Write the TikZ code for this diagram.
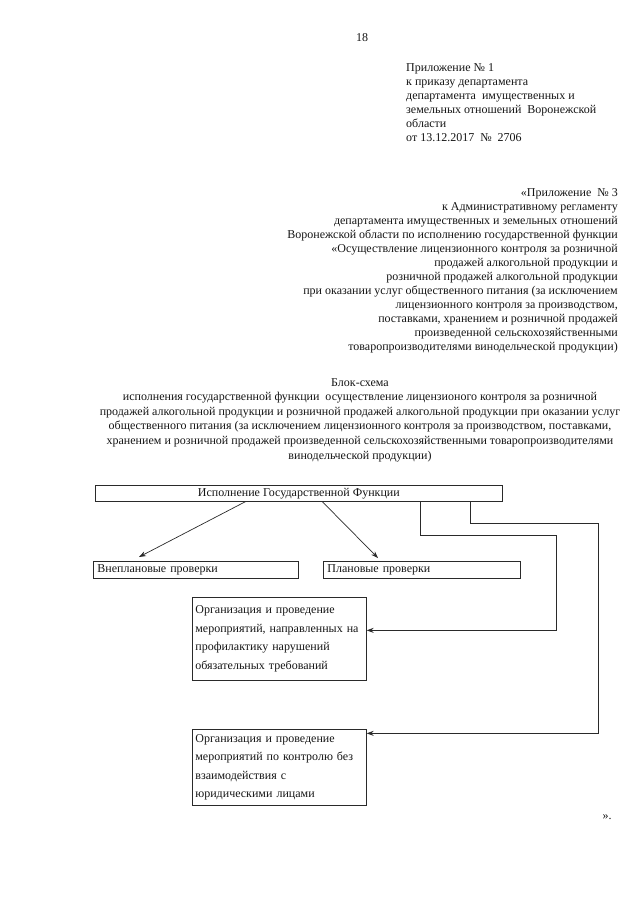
\documentclass[tikz,border=0pt]{standalone}
\usepackage{fontspec}
\setmainfont{Liberation Serif}
\usepackage{xcolor}
\definecolor{cInk}{HTML}{151515}
\definecolor{cLine}{HTML}{2A2A2A}
\usetikzlibrary{positioning,arrows.meta}
\tikzset{
  text-block/.style={inner sep=0pt,text=cInk,font=\fontsize{12}{14}\selectfont},
  node-box/.style={draw=cLine,line width=0.7pt,inner xsep=4pt,inner ysep=0pt,
    text=cInk,font=\fontsize{12}{14}\selectfont},
  node-task/.style={node-box,inner xsep=3pt,text width=168pt,align=left,minimum height=83pt,
    font=\fontsize{12}{18.5}\selectfont},
  arrow/.style={-{Stealth[length=7pt,width=5pt]},draw=cLine,line width=0.7pt},
}

\begin{document}
\begin{tikzpicture}[x=1pt,y=-1pt]
  \useasboundingbox (0,0) rectangle (640,905);
  % page number and headers
  \node[text-block] (pageno) at (362,38) {18};
  \node[text-block,anchor=north west,align=left] (order) at (406,63)
    {Приложение № 1\\
     к приказу департамента\\
     департамента\ \ имущественных и\\
     земельных отношений\ \ Воронежской\\
     области\\
     от 13.12.2017\ \ №\ \ 2706};
  \node[text-block,anchor=north east,align=right] (annex) at (618,188)
    {«Приложение\ \ № 3\\
     к Административному регламенту\\
     департамента имущественных и земельных отношений\\
     Воронежской области по исполнению государственной функции\\
     «Осуществление лицензионного контроля за розничной\\
     продажей алкогольной продукции и\\
     розничной продажей алкогольной продукции\\
     при оказании услуг общественного питания (за исключением\\
     лицензионного контроля за производством,\hspace*{19pt}\\
     поставками, хранением и розничной продажей\\
     произведенной сельскохозяйственными\\
     товаропроизводителями винодельческой продукции)};
  \node[text-block,anchor=north,align=center,font=\fontsize{12}{14.6}\selectfont] (title) at (360,378)
    {Блок-схема\\
     исполнения государственной функции\ \ осуществление лицензионого контроля за розничной\\
     продажей алкогольной продукции и розничной продажей алкогольной продукции при оказании услуг\\
     общественного питания (за исключением лицензионного контроля за производством, поставками,\\
     хранением и розничной продажей произведенной сельскохозяйственными товаропроизводителями\\
     винодельческой продукции)};

  % flow chart
  \node[node-box,anchor=north west,minimum width=407pt,minimum height=16pt] (exec) at (95,485)
    {Исполнение Государственной Функции};
  \node[node-box,anchor=north west,text width=197pt,align=left,minimum height=17pt] (unplan) at (93,561)
    {Внеплановые проверки};
  \node[node-box,anchor=north west,text width=189pt,align=left,minimum height=17pt] (plan) at (323,561)
    {Плановые проверки};
  \node[node-task,anchor=north west] (prevent) at (192,597)
    {Организация и проведение\\
     мероприятий, направленных на\\
     профилактику нарушений\\
     обязательных требований};
  \node[node-task,anchor=north west,minimum height=76pt] (control) at (192,729)
    {Организация и проведение\\
     мероприятий по контролю без\\
     взаимодействия с\\
     юридическими лицами};

  \coordinate (turn-a) at (556,535);
  \coordinate (turn-b) at (598,523);
  \draw[arrow] ([xshift=-53.5pt]exec.south) -- ([xshift=46pt,yshift=4pt]unplan.north west);
  \draw[arrow] ([xshift=23.5pt]exec.south) -- ([xshift=55pt,yshift=3pt]plan.north west);
  \draw[arrow] ([xshift=121.5pt]exec.south) |- (turn-a) |- ([yshift=8.5pt]prevent.east);
  \draw[arrow] ([xshift=171.5pt]exec.south) |- (turn-b) |- ([yshift=34pt]control.east);

  \node[text-block] (closing) at (607,817) {».};
\end{tikzpicture}
\end{document}
